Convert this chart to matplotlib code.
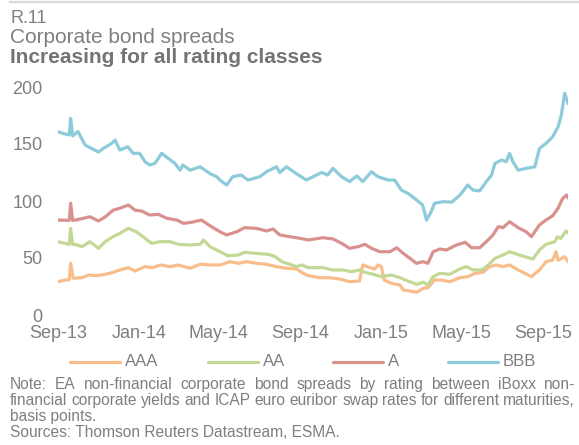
import matplotlib
matplotlib.use("Agg")
import matplotlib.pyplot as plt
import matplotlib.dates as mdates
from matplotlib.lines import Line2D
import pandas as pd

# Spreads in basis points, read as turning points of the daily series
aaa_dates = ["2013-09-01", "2013-09-12", "2013-09-18", "2013-09-20", "2013-09-24", "2013-10-07",
             "2013-10-17", "2013-10-29", "2013-11-11", "2013-11-23", "2013-12-03", "2013-12-16",
             "2013-12-26", "2014-01-10", "2014-01-22", "2014-02-02", "2014-02-17", "2014-03-01",
             "2014-03-19", "2014-04-03", "2014-04-18", "2014-05-03", "2014-05-18", "2014-05-30",
             "2014-06-12", "2014-06-27", "2014-07-12", "2014-07-27", "2014-08-11", "2014-08-26",
             "2014-09-05", "2014-09-13", "2014-09-30", "2014-10-15", "2014-10-30", "2014-11-14",
             "2014-11-29", "2014-12-04", "2014-12-15", "2014-12-22", "2014-12-27", "2015-01-01",
             "2015-01-05", "2015-01-16", "2015-01-29", "2015-02-03", "2015-02-13", "2015-02-23",
             "2015-03-05", "2015-03-12", "2015-03-22", "2015-04-01", "2015-04-14", "2015-04-29",
             "2015-05-11", "2015-05-22", "2015-06-03", "2015-06-13", "2015-06-23", "2015-07-03",
             "2015-07-13", "2015-07-26", "2015-08-05", "2015-08-15", "2015-08-27", "2015-09-06",
             "2015-09-16", "2015-09-21", "2015-09-24", "2015-10-04", "2015-10-09"]
aaa = [29.2, 30.7, 31.0, 45.3, 32.2, 32.7,
       35.1, 34.5, 35.7, 37.4, 39.5, 41.5,
       38.6, 42.4, 41.5, 43.9, 42.4, 43.9,
       41.0, 44.5, 43.9, 43.9, 46.8, 45.3,
       46.8, 45.3, 44.5, 42.4, 41.0, 40.4,
       36.6, 34.5, 32.7, 32.7, 31.6, 29.2,
       29.8, 43.9, 41.5, 40.4, 43.9, 42.4,
       30.7, 27.8, 26.3, 21.9, 21.0, 19.9,
       23.4, 24.0, 30.7, 30.7, 29.2, 32.7,
       33.6, 36.6, 37.4, 42.4, 43.9, 42.4,
       43.9, 39.5, 36.6, 33.6, 39.5, 46.8,
       48.2, 55.5, 48.0, 51.2, 47.0]

aa_dates = ["2013-09-01", "2013-09-18", "2013-09-20", "2013-09-23", "2013-09-27", "2013-10-07",
            "2013-10-19", "2013-11-01", "2013-11-11", "2013-11-23", "2013-12-03", "2013-12-16",
            "2013-12-28", "2014-01-10", "2014-01-20", "2014-02-02", "2014-02-17", "2014-03-01",
            "2014-03-19", "2014-04-03", "2014-04-08", "2014-04-18", "2014-05-03", "2014-05-15",
            "2014-05-30", "2014-06-09", "2014-06-27", "2014-07-15", "2014-07-25", "2014-08-04",
            "2014-08-16", "2014-08-26", "2014-09-03", "2014-09-13", "2014-10-05", "2014-10-20",
            "2014-11-04", "2014-11-17", "2014-11-29", "2014-12-07", "2014-12-20", "2015-01-01",
            "2015-01-16", "2015-01-29", "2015-02-10", "2015-02-23", "2015-03-05", "2015-03-12",
            "2015-03-20", "2015-03-30", "2015-04-14", "2015-04-29", "2015-05-09", "2015-05-19",
            "2015-06-01", "2015-06-11", "2015-06-21", "2015-07-03", "2015-07-13", "2015-07-28",
            "2015-08-10", "2015-08-17", "2015-08-27", "2015-09-06", "2015-09-19", "2015-09-23",
            "2015-09-28", "2015-10-06", "2015-10-09"]
aa = [64.3, 62.0, 76.0, 62.0, 62.0, 59.9,
      64.3, 58.5, 64.3, 68.7, 71.6, 76.0,
      73.0, 67.3, 62.9, 64.3, 64.3, 62.0,
      61.4, 62.0, 65.8, 59.9, 55.5, 52.0,
      52.6, 55.0, 54.0, 53.2, 51.2, 46.8,
      44.5, 42.4, 43.9, 41.5, 41.5, 39.5,
      39.5, 38.0, 39.5, 37.4, 35.7, 33.6,
      35.1, 32.7, 29.8, 26.9, 28.7, 26.3,
      33.6, 36.6, 35.7, 40.4, 42.4, 39.5,
      39.5, 43.9, 49.7, 52.6, 55.5, 52.6,
      50.3, 49.1, 57.0, 62.0, 64.3, 68.7,
      67.0, 73.7, 72.0]

a_dates = ["2013-09-01", "2013-09-18", "2013-09-20", "2013-09-23", "2013-09-27", "2013-10-09",
           "2013-10-19", "2013-11-01", "2013-11-11", "2013-11-23", "2013-12-03", "2013-12-16",
           "2013-12-26", "2014-01-05", "2014-01-17", "2014-01-30", "2014-02-12", "2014-02-27",
           "2014-03-09", "2014-03-21", "2014-04-05", "2014-04-20", "2014-05-03", "2014-05-13",
           "2014-05-28", "2014-06-09", "2014-06-27", "2014-07-12", "2014-07-22", "2014-08-01",
           "2014-08-16", "2014-08-31", "2014-09-13", "2014-10-05", "2014-10-20", "2014-11-02",
           "2014-11-14", "2014-11-27", "2014-12-07", "2014-12-17", "2014-12-30", "2015-01-14",
           "2015-01-24", "2015-02-03", "2015-02-13", "2015-02-23", "2015-03-05", "2015-03-12",
           "2015-03-20", "2015-03-30", "2015-04-09", "2015-04-24", "2015-05-07", "2015-05-17",
           "2015-05-29", "2015-06-08", "2015-06-18", "2015-06-26", "2015-07-03", "2015-07-13",
           "2015-07-26", "2015-08-07", "2015-08-15", "2015-08-27", "2015-09-06", "2015-09-16",
           "2015-09-24", "2015-10-01", "2015-10-07", "2015-10-09"]
a = [83.3, 83.0, 98.0, 83.0, 83.3, 84.8,
     86.2, 82.5, 86.0, 92.0, 93.6, 96.5,
     92.0, 91.2, 87.7, 88.3, 84.8, 83.3,
     80.4, 81.3, 83.3, 77.5, 73.0, 70.2,
     73.0, 76.6, 76.0, 73.7, 75.4, 70.2,
     68.7, 67.3, 65.8, 67.8, 66.7, 62.9,
     58.5, 59.9, 62.0, 58.5, 55.5, 55.5,
     59.0, 54.0, 49.7, 45.3, 46.8, 45.3,
     55.5, 57.9, 57.0, 61.4, 63.8, 59.0,
     59.0, 64.3, 70.2, 77.5, 76.6, 81.8,
     76.6, 73.0, 68.7, 79.0, 83.3, 87.1,
     93.6, 102.3, 105.3, 103.0]

bbb_dates = ["2013-09-01", "2013-09-10", "2013-09-18", "2013-09-20", "2013-09-23", "2013-10-01",
             "2013-10-12", "2013-10-22", "2013-11-01", "2013-11-08", "2013-11-21", "2013-11-26",
             "2013-12-03", "2013-12-15", "2013-12-23", "2014-01-02", "2014-01-10", "2014-01-17",
             "2014-01-25", "2014-02-04", "2014-02-14", "2014-02-24", "2014-03-04", "2014-03-08",
             "2014-03-19", "2014-04-03", "2014-04-18", "2014-04-28", "2014-05-03", "2014-05-13",
             "2014-05-22", "2014-06-04", "2014-06-14", "2014-07-02", "2014-07-12", "2014-07-27",
             "2014-08-01", "2014-08-11", "2014-08-26", "2014-09-10", "2014-09-20", "2014-10-03",
             "2014-10-12", "2014-10-20", "2014-11-02", "2014-11-14", "2014-11-25", "2014-12-04",
             "2014-12-17", "2014-12-27", "2015-01-11", "2015-01-21", "2015-01-31", "2015-02-10",
             "2015-02-23", "2015-03-04", "2015-03-10", "2015-03-17", "2015-03-22", "2015-04-04",
             "2015-04-17", "2015-04-29", "2015-05-11", "2015-05-19", "2015-05-29", "2015-06-08",
             "2015-06-16", "2015-06-21", "2015-07-01", "2015-07-08", "2015-07-13", "2015-07-18",
             "2015-07-26", "2015-08-07", "2015-08-20", "2015-08-27", "2015-09-06", "2015-09-16",
             "2015-09-24", "2015-09-29", "2015-10-04", "2015-10-09"]
bbb = [160.8, 159.0, 158.0, 172.5, 157.0, 161.0,
       149.0, 146.0, 143.0, 146.0, 150.6, 153.5,
       144.7, 147.6, 141.8, 141.8, 134.5, 131.6,
       133.0, 141.8, 137.4, 133.0, 127.0, 131.6,
       127.0, 130.0, 124.0, 121.3, 118.4, 114.0,
       121.3, 122.8, 118.4, 121.3, 125.7, 130.0,
       125.0, 130.0, 124.0, 118.4, 121.3, 125.0,
       122.8, 128.7, 121.3, 117.0, 122.0, 117.0,
       125.7, 121.3, 118.4, 118.4, 109.6, 106.7,
       100.9, 96.5, 83.3, 90.6, 98.0, 99.4,
       99.0, 105.0, 114.0, 109.6, 108.8, 117.0,
       122.8, 133.0, 136.0, 134.5, 141.8, 134.5,
       127.0, 128.7, 130.0, 146.0, 150.6, 156.4,
       165.0, 175.4, 194.5, 185.7]

labels = ["AAA", "AA", "A", "BBB"]
colors = ["#F9BD8B", "#C4D896", "#D9918E", "#8DCBDA"]
series = [(aaa_dates, aaa), (aa_dates, aa), (a_dates, a), (bbb_dates, bbb)]

GREY = "#7F7F7F"
W, H = 579, 445
plt.rcParams["font.family"] = ["Liberation Sans", "DejaVu Sans"]

fig = plt.figure(figsize=(W / 100, H / 100), dpi=100)


def fx(px):
    return px / W


def fy(py):
    return 1 - py / H


# header
fig.add_artist(Line2D([fx(10), fx(579)], [fy(2), fy(2)], color="#D9D9D9", lw=1.6))
fig.text(fx(10), fy(23), "R.11", fontsize=13, color=GREY, va="baseline")
fig.text(fx(10), fy(43), "Corporate bond spreads", fontsize=15, color=GREY, va="baseline")
fig.text(fx(10), fy(63), "Increasing for all rating classes", fontsize=15, color="#747474",
         fontweight="bold", va="baseline")

ax = fig.add_axes([fx(58), fy(315), (568 - 58) / W, (315 - 87) / H])
for (d, v), lab, col in zip(series, labels, colors):
    ax.plot(pd.to_datetime(d), v, color=col, lw=2.3, label=lab, solid_joinstyle="round")

ax.set_ylim(0, 200)
ax.set_yticks(range(0, 201, 50))
ax.set_xlim(pd.Timestamp("2013-09-01"), pd.Timestamp("2015-10-09"))
ax.xaxis.set_major_locator(mdates.MonthLocator(bymonth=[1, 5, 9]))
ax.xaxis.set_major_formatter(mdates.DateFormatter("%b-%y"))
for s in ax.spines.values():
    s.set_visible(False)
ax.tick_params(axis="both", length=0, labelsize=13, labelcolor=GREY)
ax.tick_params(axis="y", pad=11)
ax.tick_params(axis="x", pad=7)
for lbl in ax.get_yticklabels():
    lbl.set_verticalalignment("center_baseline")
ax.patch.set_alpha(0)

# legend drawn by hand so the entries sit where they should
handle_x = [70, 208, 333, 448]
for lab, col, hx in zip(labels, colors, handle_x):
    fig.add_artist(Line2D([fx(hx), fx(hx + 50)], [fy(362), fy(362)], color=col, lw=2.3,
                          solid_capstyle="round"))
    fig.text(fx(hx + 55), fy(362), lab, fontsize=12, color=GREY, va="center")

# note, justified between the page margins
note_lines = [
    "Note: EA non-financial corporate bond spreads by rating between iBoxx non-",
    "financial corporate yields and ICAP euro euribor swap rates for different maturities,",
]
note_size = 11.2
fig.canvas.draw()
renderer = fig.canvas.get_renderer()
for line, yb in zip(note_lines, [389, 405]):
    words = line.split(" ")
    texts = [fig.text(0, fy(yb), w, fontsize=note_size, color=GREY, va="baseline") for w in words]
    widths = [t.get_window_extent(renderer).width for t in texts]
    gap = (575 - 10 - sum(widths)) / (len(words) - 1)
    x = 10
    for t, w in zip(texts, widths):
        t.set_x(fx(x))
        x += w + gap
fig.text(fx(10), fy(421), "basis points.", fontsize=note_size, color=GREY, va="baseline")
fig.text(fx(10), fy(437), "Sources: Thomson Reuters Datastream, ESMA.", fontsize=note_size,
         color=GREY, va="baseline")

fig.savefig("out.png", dpi=100)
